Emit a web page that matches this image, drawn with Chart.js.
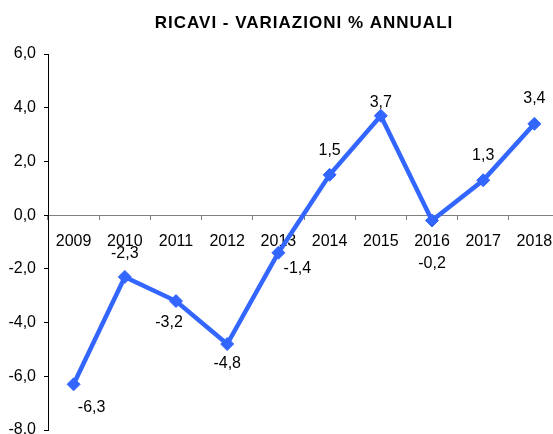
<!DOCTYPE html>
<html lang="it">
  <head>
    <meta charset="UTF-8" />
    <title>Ricavi - variazioni % annuali</title>
    <style>
      html, body { margin: 0; padding: 0; background: #ffffff; overflow: hidden; }
      #lineChart { display: block; }
    </style>
  </head>
  <body>
    <canvas id="lineChart" width="560" height="434"></canvas>

    <script src="https://cdn.jsdelivr.net/npm/chart.js"></script>
    <script>
      // Dati del grafico
      const titolo = 'RICAVI - VARIAZIONI % ANNUALI';
      const anni = ['2009', '2010', '2011', '2012', '2013', '2014', '2015', '2016', '2017', '2018'];
      const variazioni = [-6.3, -2.3, -3.2, -4.8, -1.4, 1.5, 3.7, -0.2, 1.3, 3.4];
      const yMin = -8;
      const yMax = 6;
      const yStep = 2;

      // Spostamento delle etichette rispetto al punto (come in Excel)
      const labelOffsets = [[18, 23], [0, -23], [-7, 22], [0, 20], [19, 16], [0, -24], [0, -13], [0, 43], [0, -25], [0, -25]];

      const blu = 'rgb(51, 102, 255)';
      const font = "'Liberation Sans', Arial, sans-serif";
      const virgola = v => v.toFixed(1).replace('.', ',');

      // Titolo centrato sull'area del grafico
      const titlePlugin = {
        id: 'titlePlugin',
        afterDraw(chart) {
          const { ctx, chartArea } = chart;
          ctx.save();
          ctx.font = 'bold 17px ' + font;
          ctx.letterSpacing = '1px';
          ctx.fillStyle = '#000';
          ctx.textAlign = 'center';
          ctx.textBaseline = 'middle';
          ctx.fillText(titolo, (chartArea.left + chartArea.right) / 2, 23);
          ctx.restore();
        }
      };

      // Etichette dei valori
      const valueLabels = {
        id: 'valueLabels',
        afterDatasetsDraw(chart) {
          const { ctx } = chart;
          const meta = chart.getDatasetMeta(0);
          ctx.save();
          ctx.font = '16px ' + font;
          ctx.fillStyle = '#000';
          ctx.textAlign = 'center';
          ctx.textBaseline = 'middle';
          meta.data.forEach((pt, i) => {
            const off = labelOffsets[i] || [0, -20];
            ctx.fillText(virgola(variazioni[i]), pt.x + off[0], pt.y + off[1]);
          });
          ctx.restore();
        }
      };

      const ctx = document.getElementById('lineChart').getContext('2d');
      new Chart(ctx, {
        type: 'line',
        data: {
          labels: anni,
          datasets: [{
            data: variazioni,
            borderColor: blu,
            backgroundColor: blu,
            borderWidth: 4.5,
            pointStyle: 'rectRot',
            pointRadius: 6.5,
            pointBorderWidth: 1,
            pointBackgroundColor: blu,
            pointBorderColor: blu,
            tension: 0
          }]
        },
        options: {
          responsive: false,
          animation: false,
          layout: { autoPadding: false, padding: { top: 54, bottom: 4, left: 0, right: 0 } },
          plugins: {
            legend: { display: false },
            title: { display: false },
            tooltip: { enabled: false }
          },
          scales: {
            x: {
              type: 'category',
              position: { y: 0 },
              offset: true,
              border: { color: '#808080', width: 1 },
              grid: { offset: true, drawOnChartArea: false, drawTicks: true, tickLength: 4, color: '#808080' },
              ticks: { color: '#000', font: { family: font, size: 16 }, padding: 13, maxRotation: 0, autoSkip: false },
              afterFit(scale) {
                scale.paddingLeft = 0;
                scale.paddingRight = 0;
              }
            },
            y: {
              min: yMin,
              max: yMax,
              border: { color: '#000', width: 1 },
              grid: { drawOnChartArea: false, drawTicks: true, tickLength: 4, color: '#000' },
              ticks: {
                stepSize: yStep,
                color: '#000',
                font: { family: font, size: 16 },
                padding: 8,
                callback: v => virgola(v)
              },
              afterFit(scale) {
                scale.width = 48;
                scale.paddingTop = 0;
                scale.paddingBottom = 0;
              }
            }
          }
        },
        plugins: [titlePlugin, valueLabels]
      });
    </script>
  </body>
</html>
